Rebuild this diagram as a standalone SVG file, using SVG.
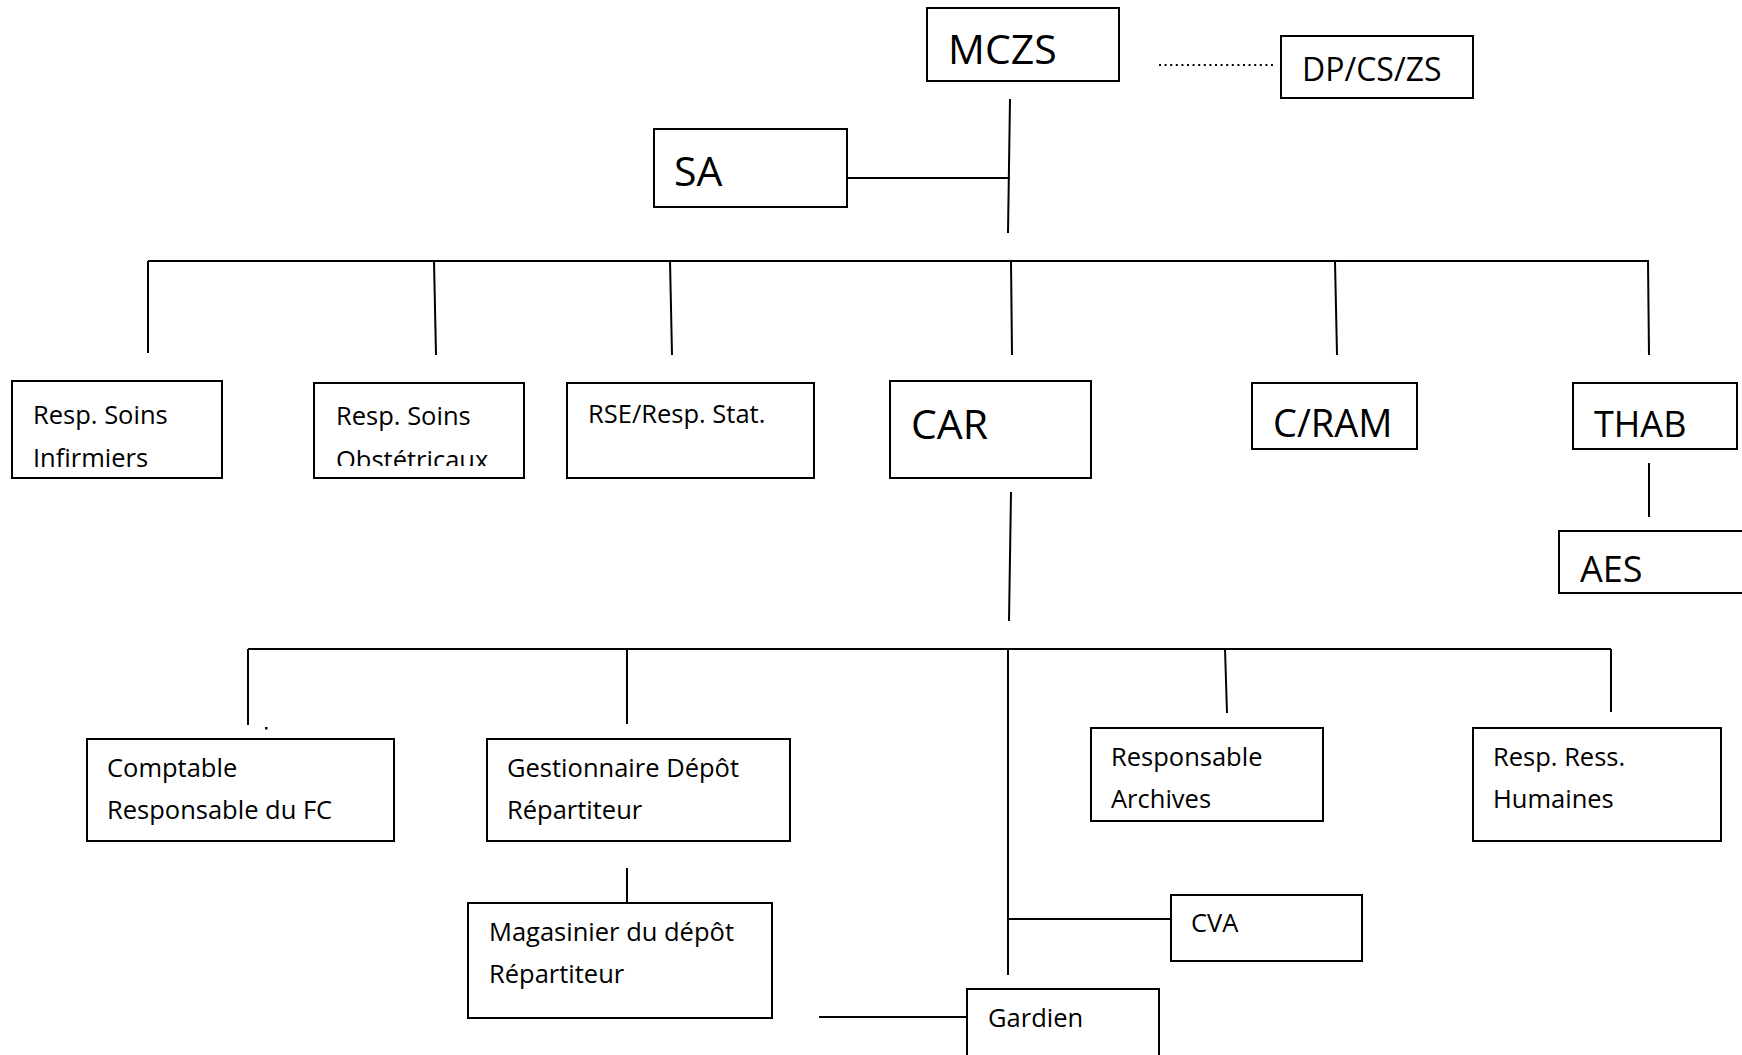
<svg xmlns="http://www.w3.org/2000/svg" width="1742" height="1055" viewBox="0 0 1742 1055">
<style>
.box{fill:#fff;stroke:#000;stroke-width:2}
.ln{fill:none;stroke:#000;stroke-width:2}
.dot{fill:none;stroke:#000;stroke-width:2.2;stroke-dasharray:2 3.6}
text{font-family:"Open Sans","Noto Sans","Liberation Sans",sans-serif;fill:#000}
.big{font-size:41px}
.med{font-size:36px}
.sm{font-size:25.5px}
</style>
<defs>
<clipPath id="clipObs"><rect x="314" y="383" width="210" height="83"/></clipPath>
</defs>
<rect width="1742" height="1055" fill="#fff"/>
<g id="connectors">
<line class="dot" x1="1159" y1="65" x2="1276" y2="65"/>
<line class="ln" x1="1010" y1="99" x2="1008" y2="233"/>
<line class="ln" x1="847" y1="178" x2="1010" y2="178"/>
<line class="ln" x1="148" y1="261" x2="1649" y2="261"/>
<line class="ln" x1="148" y1="261" x2="148" y2="353"/>
<line class="ln" x1="434" y1="261" x2="436" y2="355"/>
<line class="ln" x1="670" y1="261" x2="672" y2="355"/>
<line class="ln" x1="1011" y1="261" x2="1012" y2="355"/>
<line class="ln" x1="1335" y1="261" x2="1337" y2="355"/>
<line class="ln" x1="1648" y1="261" x2="1649" y2="355"/>
<line class="ln" x1="1649" y1="463" x2="1649" y2="517"/>
<line class="ln" x1="1011" y1="492" x2="1009" y2="621"/>
<line class="ln" x1="248" y1="649" x2="1611" y2="649"/>
<line class="ln" x1="248" y1="649" x2="248" y2="725"/>
<rect x="265" y="727" width="2.5" height="2.5" fill="#000"/>
<line class="ln" x1="627" y1="649" x2="627" y2="724"/>
<line class="ln" x1="1008" y1="649" x2="1008" y2="975"/>
<line class="ln" x1="1225" y1="649" x2="1227" y2="713"/>
<line class="ln" x1="1611" y1="649" x2="1611" y2="712"/>
<line class="ln" x1="627" y1="868" x2="627" y2="903"/>
<line class="ln" x1="1008" y1="919" x2="1171" y2="919"/>
<line class="ln" x1="819" y1="1017" x2="967" y2="1017"/>
</g>
<g id="mczs"><rect class="box" x="927" y="8" width="192" height="73"/><text class="big" x="948" y="64">MCZS</text></g>
<g id="dpcszs"><rect class="box" x="1281" y="36" width="192" height="62"/><text x="1302" y="81" style="font-size:32px">DP/CS/ZS</text></g>
<g id="sa"><rect class="box" x="654" y="129" width="193" height="78"/><text class="big" x="674" y="186">SA</text></g>
<g id="soins-inf"><rect class="box" x="12" y="381" width="210" height="97"/><text class="sm" x="33" y="424">Resp. Soins</text><text class="sm" x="33" y="467">Infirmiers</text></g>
<g id="soins-obs"><rect class="box" x="314" y="383" width="210" height="95"/><text class="sm" x="336" y="425">Resp. Soins</text><text class="sm" x="336" y="469" clip-path="url(#clipObs)">Obstétricaux</text></g>
<g id="rse"><rect class="box" x="567" y="383" width="247" height="95"/><text class="sm" x="588" y="423">RSE/Resp. Stat.</text></g>
<g id="car"><rect class="box" x="890" y="381" width="201" height="97"/><text class="big" x="911" y="439">CAR</text></g>
<g id="cram"><rect class="box" x="1252" y="383" width="165" height="66"/><text class="med" x="1273" y="437" style="font-size:38px">C/RAM</text></g>
<g id="thab"><rect class="box" x="1573" y="383" width="164" height="66"/><text class="med" x="1594" y="437">THAB</text></g>
<g id="aes"><rect class="box" x="1559" y="531" width="200" height="62"/><text class="med" x="1580" y="582">AES</text></g>
<g id="comptable"><rect class="box" x="87" y="739" width="307" height="102"/><text class="sm" x="107" y="777">Comptable</text><text class="sm" x="107" y="819">Responsable du FC</text></g>
<g id="gestionnaire"><rect class="box" x="487" y="739" width="303" height="102"/><text class="sm" x="507" y="777">Gestionnaire Dépôt</text><text class="sm" x="507" y="819">Répartiteur</text></g>
<g id="magasinier"><rect class="box" x="468" y="903" width="304" height="115"/><text class="sm" x="489" y="941">Magasinier du dépôt</text><text class="sm" x="489" y="983">Répartiteur</text></g>
<g id="archives"><rect class="box" x="1091" y="728" width="232" height="93"/><text class="sm" x="1111" y="766">Responsable</text><text class="sm" x="1111" y="808">Archives</text></g>
<g id="rh"><rect class="box" x="1473" y="728" width="248" height="113"/><text class="sm" x="1493" y="766">Resp. Ress.</text><text class="sm" x="1493" y="808">Humaines</text></g>
<g id="cva"><rect class="box" x="1171" y="895" width="191" height="66"/><text class="sm" x="1191" y="932">CVA</text></g>
<g id="gardien"><rect class="box" x="967" y="989" width="192" height="80"/><text class="sm" x="988" y="1027">Gardien</text></g>
</svg>
